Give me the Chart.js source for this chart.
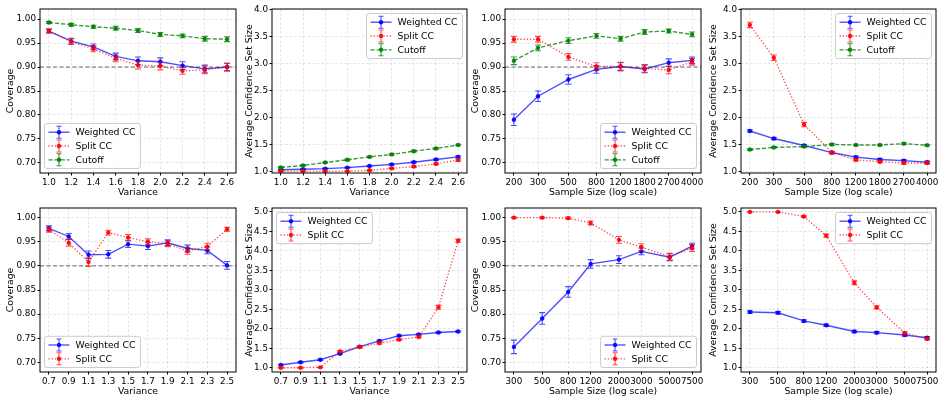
<!DOCTYPE html>
<html lang="en">
<head>
<meta charset="UTF-8">
<title>Coverage and confidence set size</title>
<script src="https://cdn.jsdelivr.net/npm/chart.js"></script>
<style>
  body { margin: 0; background: #fff; width: 940px; height: 402px; overflow: hidden; position: relative; }
  canvas { position: absolute; display: block; }
</style>
</head>
<body>
<script>
// x values
const varA = [1.0, 1.2, 1.4, 1.6, 1.8, 2.0, 2.2, 2.4, 2.6];
const sizeA = [200, 300, 500, 800, 1200, 1800, 2700, 4000];
const varB = [0.7, 0.9, 1.1, 1.3, 1.5, 1.7, 1.9, 2.1, 2.3, 2.5];
const sizeB = [300, 500, 800, 1200, 2000, 3000, 5000, 7500];

// y tick labels
const covTicks = [0.70, 0.75, 0.80, 0.85, 0.90, 0.95, 1.00];
const sizeTicks4 = [1.0, 1.5, 2.0, 2.5, 3.0, 3.5, 4.0];
const sizeTicks5 = [1.0, 1.5, 2.0, 2.5, 3.0, 3.5, 4.0, 4.5, 5.0];

// top row, coverage vs variance
const p1Weighted = [0.975, 0.954, 0.942, 0.922, 0.913, 0.911, 0.903, 0.896, 0.900];
const p1WeightedErr = [0.004, 0.006, 0.006, 0.007, 0.008, 0.008, 0.008, 0.008, 0.008];
const p1Split = [0.975, 0.953, 0.938, 0.918, 0.904, 0.902, 0.892, 0.894, 0.900];
const p1SplitErr = [0.004, 0.006, 0.006, 0.007, 0.008, 0.008, 0.007, 0.008, 0.008];
const p1Cutoff = [0.993, 0.988, 0.984, 0.981, 0.976, 0.968, 0.965, 0.959, 0.958];
const p1CutoffErr = [0.002, 0.003, 0.003, 0.004, 0.004, 0.004, 0.004, 0.005, 0.005];

// top row, set size vs variance
const p2Weighted = [1.03, 1.04, 1.05, 1.07, 1.10, 1.13, 1.17, 1.22, 1.27];
const p2WeightedErr = [0.01, 0.01, 0.01, 0.01, 0.015, 0.015, 0.015, 0.015, 0.02];
const p2Split = [1.005, 1.005, 1.005, 1.005, 1.02, 1.055, 1.09, 1.14, 1.21];
const p2SplitErr = [0.005, 0.005, 0.005, 0.005, 0.01, 0.01, 0.015, 0.015, 0.02];
const p2Cutoff = [1.075, 1.11, 1.165, 1.215, 1.27, 1.315, 1.375, 1.425, 1.49];
const p2CutoffErr = [0.01, 0.01, 0.01, 0.015, 0.015, 0.015, 0.015, 0.015, 0.015];

// top row, coverage vs sample size
const p3Weighted = [0.790, 0.839, 0.874, 0.895, 0.901, 0.896, 0.909, 0.914];
const p3WeightedErr = [0.012, 0.011, 0.010, 0.008, 0.008, 0.008, 0.008, 0.007];
const p3Split = [0.958, 0.958, 0.921, 0.901, 0.901, 0.897, 0.894, 0.911];
const p3SplitErr = [0.006, 0.006, 0.007, 0.008, 0.009, 0.008, 0.008, 0.007];
const p3Cutoff = [0.913, 0.940, 0.955, 0.965, 0.959, 0.973, 0.975, 0.968];
const p3CutoffErr = [0.008, 0.006, 0.006, 0.005, 0.005, 0.005, 0.004, 0.005];

// top row, set size vs sample size
const p4Weighted = [1.75, 1.61, 1.48, 1.35, 1.265, 1.22, 1.20, 1.17];
const p4WeightedErr = [0.02, 0.02, 0.02, 0.02, 0.02, 0.02, 0.02, 0.02];
const p4Split = [3.72, 3.11, 1.87, 1.35, 1.215, 1.18, 1.155, 1.155];
const p4SplitErr = [0.05, 0.05, 0.04, 0.02, 0.02, 0.02, 0.02, 0.02];
const p4Cutoff = [1.405, 1.445, 1.46, 1.50, 1.49, 1.49, 1.515, 1.485];
const p4CutoffErr = [0.015, 0.015, 0.015, 0.015, 0.015, 0.015, 0.015, 0.015];

// bottom row, coverage vs variance
const p5Weighted = [0.978, 0.961, 0.923, 0.924, 0.945, 0.941, 0.948, 0.936, 0.932, 0.901];
const p5WeightedErr = [0.005, 0.006, 0.008, 0.008, 0.007, 0.007, 0.006, 0.007, 0.007, 0.008];
const p5Split = [0.975, 0.948, 0.908, 0.969, 0.959, 0.950, 0.946, 0.931, 0.940, 0.976];
const p5SplitErr = [0.005, 0.007, 0.009, 0.005, 0.006, 0.006, 0.006, 0.007, 0.007, 0.004];

// bottom row, set size vs variance
const p6Weighted = [1.07, 1.14, 1.205, 1.36, 1.54, 1.69, 1.82, 1.855, 1.905, 1.93];
const p6WeightedErr = [0.02, 0.02, 0.02, 0.02, 0.02, 0.02, 0.02, 0.02, 0.02, 0.02];
const p6Split = [1.0, 1.0, 1.01, 1.42, 1.53, 1.63, 1.72, 1.79, 2.55, 4.26];
const p6SplitErr = [0.01, 0.01, 0.01, 0.02, 0.02, 0.02, 0.02, 0.02, 0.05, 0.04];

// bottom row, coverage vs sample size
const p7Weighted = [0.732, 0.791, 0.846, 0.904, 0.913, 0.930, 0.918, 0.941];
const p7WeightedErr = [0.014, 0.012, 0.011, 0.009, 0.008, 0.007, 0.007, 0.006];
const p7Split = [1.000, 1.000, 0.999, 0.989, 0.954, 0.939, 0.919, 0.937];
const p7SplitErr = [0.001, 0.001, 0.002, 0.004, 0.007, 0.007, 0.007, 0.007];

// bottom row, set size vs sample size
const p8Weighted = [2.43, 2.41, 2.20, 2.09, 1.93, 1.90, 1.84, 1.77];
const p8WeightedErr = [0.03, 0.03, 0.03, 0.03, 0.03, 0.03, 0.03, 0.03];
const p8Split = [5.0, 5.0, 4.88, 4.39, 3.18, 2.55, 1.89, 1.74];
const p8SplitErr = [0.005, 0.005, 0.02, 0.04, 0.05, 0.04, 0.03, 0.03];

const FONT = '"DejaVu Sans", sans-serif';
const FS = 9.3;     // titles and legend
const TFS = 8.8;    // tick labels
const INK = '#000';

const looks = {
  'Weighted CC': { c: '0,0,255', dash: [], a: 0.7 },
  'Split CC': { c: '255,0,0', dash: [1.3, 1.9], a: 0.7 },
  'Cutoff': { c: '0,128,0', dash: [4.2, 1.9], a: 0.8 }
};

function series(label, xs, ys, err, order) {
  const k = looks[label];
  return {
    label, err, order,
    data: xs.map((x, i) => ({ x, y: ys[i] })),
    borderColor: `rgba(${k.c},${k.a})`,
    backgroundColor: `rgba(${k.c},0.9)`,
    pointBackgroundColor: `rgba(${k.c},0.9)`,
    pointBorderWidth: 0,
    pointRadius: 2.2,
    borderWidth: 1.35,
    borderDash: k.dash,
    tension: 0
  };
}

// error bars, drawn right after each dataset
const errorBars = {
  id: 'errorBars',
  afterDatasetDraw(chart, args) {
    const ds = chart.data.datasets[args.index];
    if (!ds.err) return;
    const ctx = chart.ctx, xs = chart.scales.x, ys = chart.scales.y;
    ctx.save();
    ctx.strokeStyle = ds.borderColor;
    ctx.lineWidth = 1.1;
    ctx.setLineDash([]);
    ctx.beginPath();
    ds.data.forEach((p, i) => {
      const x = xs.getPixelForValue(p.x);
      const y1 = ys.getPixelForValue(p.y - ds.err[i]);
      const y2 = ys.getPixelForValue(p.y + ds.err[i]);
      ctx.moveTo(x, y1); ctx.lineTo(x, y2);
      ctx.moveTo(x - 3, y1); ctx.lineTo(x + 3, y1);
      ctx.moveTo(x - 3, y2); ctx.lineTo(x + 3, y2);
    });
    ctx.stroke();
    ctx.restore();
  }
};

// 0.9 target line and the axes box
const frame = {
  id: 'frame',
  beforeDatasetsDraw(chart, args, opts) {
    if (opts.ref == null) return;
    const ctx = chart.ctx, ca = chart.chartArea;
    const y = chart.scales.y.getPixelForValue(opts.ref);
    ctx.save();
    ctx.strokeStyle = '#666';
    ctx.lineWidth = 1;
    ctx.setLineDash([4, 2.5]);
    ctx.beginPath(); ctx.moveTo(ca.left, y); ctx.lineTo(ca.right, y); ctx.stroke();
    ctx.restore();
  },
  afterDatasetsDraw(chart) {
    const ctx = chart.ctx, ca = chart.chartArea;
    ctx.save();
    ctx.strokeStyle = '#000';
    ctx.lineWidth = 1;
    ctx.strokeRect(ca.left, ca.top, ca.right - ca.left, ca.bottom - ca.top);
    ctx.restore();
  }
};

// legend box inside the axes, matplotlib style
const legendBox = {
  id: 'box',
  afterDraw(chart, args, opts) {
    const ctx = chart.ctx, ca = chart.chartArea;
    const items = chart.data.datasets;
    ctx.save();
    ctx.font = `${FS}px ${FONT}`;
    const tw = Math.max(...items.map(d => ctx.measureText(d.label).width));
    const rowH = 13.8, w = 31 + tw + 5, h = items.length * rowH + 3.6, gap = 4.5;
    const x = opts.corner[1] === 'l' ? ca.left + gap : ca.right - gap - w;
    const y = opts.corner[0] === 't' ? ca.top + gap : ca.bottom - gap - h;
    ctx.beginPath();
    if (ctx.roundRect) ctx.roundRect(x, y, w, h, 2.5); else ctx.rect(x, y, w, h);
    ctx.fillStyle = 'rgba(255,255,255,0.8)';
    ctx.fill();
    ctx.strokeStyle = '#cccccc';
    ctx.lineWidth = 1;
    ctx.stroke();
    items.forEach((d, i) => {
      const cy = y + 1.8 + rowH * (i + 0.5), mx = x + 14.5;
      ctx.strokeStyle = d.borderColor;
      ctx.lineWidth = d.borderWidth;
      ctx.setLineDash(d.borderDash);
      ctx.beginPath(); ctx.moveTo(x + 4, cy); ctx.lineTo(x + 25, cy); ctx.stroke();
      ctx.setLineDash([]);
      ctx.lineWidth = 1.1;
      ctx.beginPath();
      ctx.moveTo(mx, cy - 6); ctx.lineTo(mx, cy + 6);
      ctx.moveTo(mx - 2.5, cy - 6); ctx.lineTo(mx + 2.5, cy - 6);
      ctx.moveTo(mx - 2.5, cy + 6); ctx.lineTo(mx + 2.5, cy + 6);
      ctx.stroke();
      ctx.fillStyle = d.pointBackgroundColor;
      ctx.beginPath(); ctx.arc(mx, cy, 2.2, 0, Math.PI * 2); ctx.fill();
      ctx.fillStyle = INK;
      ctx.textBaseline = 'middle';
      ctx.fillText(d.label, x + 31, cy + 0.5);
    });
    ctx.restore();
  }
};

const COV = 'Coverage', SIZE = 'Average Confidence Set Size';
const VAR = 'Variance', SAMP = 'Sample Size (log scale)';

// box = plot area [left, top, right, bottom] on the page
const panels = [
  { box: [40, 9, 237, 173], yw: 39, xs: varA, log: false, xRange: [0.92, 2.68], xDec: 1,
    yTicks: covTicks, yRange: [0.679, 1.021], yDec: 2, xTitle: VAR, yTitle: COV, ref: 0.9, corner: 'bl',
    lines: [['Weighted CC', p1Weighted, p1WeightedErr], ['Split CC', p1Split, p1SplitErr], ['Cutoff', p1Cutoff, p1CutoffErr]] },
  { box: [272, 9, 468, 173], yw: 32, xs: varA, log: false, xRange: [0.92, 2.68], xDec: 1,
    yTicks: sizeTicks4, yRange: [0.97, 4.015], yDec: 1, xTitle: VAR, yTitle: SIZE, ref: null, corner: 'tr',
    lines: [['Weighted CC', p2Weighted, p2WeightedErr], ['Split CC', p2Split, p2SplitErr], ['Cutoff', p2Cutoff, p2CutoffErr]] },
  { box: [505, 9, 702, 173], yw: 39, xs: sizeA, log: true, xRange: [172.2, 4645],
    yTicks: covTicks, yRange: [0.679, 1.021], yDec: 2, xTitle: SAMP, yTitle: COV, ref: 0.9, corner: 'br',
    lines: [['Weighted CC', p3Weighted, p3WeightedErr], ['Split CC', p3Split, p3SplitErr], ['Cutoff', p3Cutoff, p3CutoffErr]] },
  { box: [741, 9, 937, 173], yw: 37, xs: sizeA, log: true, xRange: [172.2, 4645],
    yTicks: sizeTicks4, yRange: [0.97, 4.015], yDec: 1, xTitle: SAMP, yTitle: SIZE, ref: null, corner: 'tr',
    lines: [['Weighted CC', p4Weighted, p4WeightedErr], ['Split CC', p4Split, p4SplitErr], ['Cutoff', p4Cutoff, p4CutoffErr]] },
  { box: [40, 208, 237, 372], yw: 39, xs: varB, log: false, xRange: [0.61, 2.59], xDec: 1,
    yTicks: covTicks, yRange: [0.68, 1.02], yDec: 2, xTitle: VAR, yTitle: COV, ref: 0.9, corner: 'bl',
    lines: [['Weighted CC', p5Weighted, p5WeightedErr], ['Split CC', p5Split, p5SplitErr]] },
  { box: [272, 208, 468, 372], yw: 32, xs: varB, log: false, xRange: [0.61, 2.59], xDec: 1,
    yTicks: sizeTicks5, yRange: [0.89, 5.1], yDec: 1, xTitle: VAR, yTitle: SIZE, ref: null, corner: 'tl',
    lines: [['Weighted CC', p6Weighted, p6WeightedErr], ['Split CC', p6Split, p6SplitErr]] },
  { box: [505, 208, 702, 372], yw: 39, xs: sizeB, log: true, xRange: [255.4, 8811],
    yTicks: covTicks, yRange: [0.68, 1.02], yDec: 2, xTitle: SAMP, yTitle: COV, ref: 0.9, corner: 'br',
    lines: [['Weighted CC', p7Weighted, p7WeightedErr], ['Split CC', p7Split, p7SplitErr]] },
  { box: [741, 208, 937, 372], yw: 37, xs: sizeB, log: true, xRange: [255.4, 8811],
    yTicks: sizeTicks5, yRange: [0.89, 5.1], yDec: 1, xTitle: SAMP, yTitle: SIZE, ref: null, corner: 'tr',
    lines: [['Weighted CC', p8Weighted, p8WeightedErr], ['Split CC', p8Split, p8SplitErr]] }
];

const PAD_T = 5, PAD_R = 3, XH = 27;

panels.forEach(p => {
  const [L, T, R, B] = p.box;
  const left = L - p.yw, top = T - PAD_T;
  const cv = document.createElement('canvas');
  cv.width = R + PAD_R - left;
  cv.height = B + XH - top;
  cv.style.left = left + 'px';
  cv.style.top = top + 'px';
  document.body.appendChild(cv);

  const datasets = p.lines.map((l, i) => series(l[0], p.xs, l[1], l[2], p.lines.length - i));
  const tickFont = { family: FONT, size: TFS };
  const titleFont = { family: FONT, size: FS };

  new Chart(cv, {
    type: 'line',
    data: { datasets },
    options: {
      responsive: false,
      animation: false,
      devicePixelRatio: 1,
      layout: { padding: { top: PAD_T, right: PAD_R, left: 0, bottom: 0 } },
      plugins: {
        legend: { display: false },
        tooltip: { enabled: false },
        frame: { ref: p.ref },
        box: { corner: p.corner }
      },
      scales: {
        x: {
          type: p.log ? 'logarithmic' : 'linear',
          min: p.xRange[0], max: p.xRange[1],
          afterBuildTicks: s => { s.ticks = p.xs.map(v => ({ value: v })); },
          afterFit: s => { s.height = XH; s.paddingLeft = 0; s.paddingRight = 0; },
          ticks: {
            autoSkip: false, maxRotation: 0, minRotation: 0, padding: 1.5, color: INK, font: tickFont,
            callback: v => p.log ? String(v) : Number(v).toFixed(p.xDec)
          },
          grid: { color: 'rgba(0,0,0,0.13)', lineWidth: 0.8, tickLength: 2.5, tickColor: '#000', tickWidth: 1 },
          border: { display: false, dash: [2.5, 2] },
          title: { display: true, text: p.xTitle, color: INK, font: titleFont, padding: { top: 0, bottom: 2 } }
        },
        y: {
          type: 'linear',
          min: p.yRange[0], max: p.yRange[1],
          afterBuildTicks: s => { s.ticks = p.yTicks.map(v => ({ value: v })); },
          afterFit: s => { s.width = p.yw; s.paddingTop = 0; s.paddingBottom = 0; },
          ticks: {
            autoSkip: false, padding: 1.5, color: INK, font: tickFont,
            callback: v => Number(v).toFixed(p.yDec)
          },
          grid: { color: 'rgba(0,0,0,0.13)', lineWidth: 0.8, tickLength: 2.5, tickColor: '#000', tickWidth: 1 },
          border: { display: false, dash: [2.5, 2] },
          title: { display: true, text: p.yTitle, color: INK, font: titleFont, padding: { top: 4, bottom: 0 } }
        }
      }
    },
    plugins: [errorBars, frame, legendBox]
  });
});
</script>
</body>
</html>
